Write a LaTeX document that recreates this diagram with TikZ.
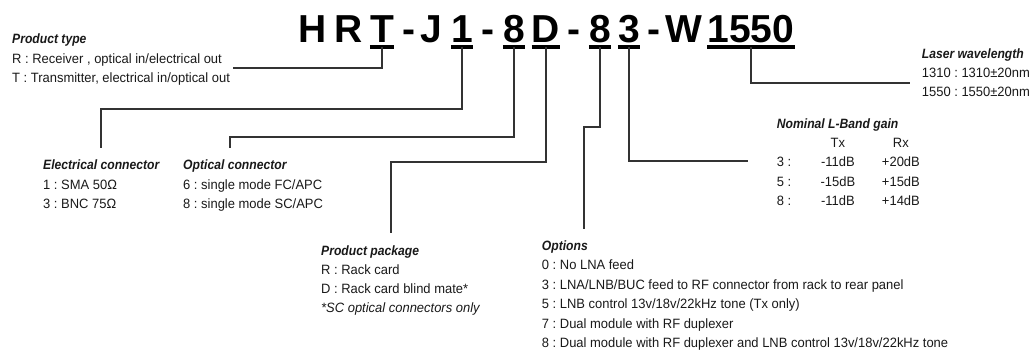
\documentclass[tikz,border=0pt]{standalone}
\usepackage{fontspec}
\setmainfont{Liberation Sans}[FakeStretch=0.96]
\newfontfamily\headfont{Liberation Sans}[FakeStretch=0.9]
\newfontfamily\codefont{Liberation Sans}
\usepackage{array}
\usepackage{tikz}
\frenchspacing

\begin{document}
\begin{tikzpicture}[
  x=1pt, y=-1pt,
  font=\fontsize{13.5}{19.5}\selectfont,
  text=black!90,
  code/.style={
    anchor=base,
    inner xsep=0pt,
    inner ysep=3.5pt,
    text=black,
    font=\codefont\fontsize{39}{39}\selectfont\bfseries,
  },
  uline/.style={line width=4pt, black},
  lead/.style={line width=1.2pt, black!80},
  field/.style={anchor=north west, inner sep=0pt, align=left},
]
\useasboundingbox (0,0) rectangle (1031,350);

% --- Part number ---
\foreach \ch/\cx/\nm in {H/313/cH, R/349/cR, T/382/cT, -/409/cDashA, J/431/cJ,
  1/462/cOne, -/488/cDashB, 8/514/cEightA, D/546/cD, -/574/cDashC,
  8/600/cEightB, 3/629/cThree, -/654/cDashD, W/684/cW, 1550/751/cWave}
  \node[code] (\nm) at (\cx,43) {\ch};

\foreach \nm in {cT, cOne, cEightA, cD, cEightB, cThree, cWave}
  \draw[uline] (\nm.south west) -- (\nm.south east);

% --- Product type ---
\node[field] (Type) at (12,33.6) {
  {\headfont\bfseries\itshape Product type}\\
  R : Receiver , optical in/electrical out\\
  T : Transmitter, electrical in/optical out
};

% --- Electrical connector ---
\node[field] (Elec) at (43,159.6) {
  {\headfont\bfseries\itshape Electrical connector}\\
  1 : SMA 50Ω\\
  3 : BNC 75Ω
};

% --- Optical connector ---
\node[field] (Optic) at (183,159.6) {
  {\headfont\bfseries\itshape Optical connector}\\
  6 : single mode FC/APC\\
  8 : single mode SC/APC
};

% --- Product package ---
\node[field, font=\fontsize{13.5}{19}\selectfont] (Package) at (321,245.3) {
  {\headfont\bfseries\itshape Product package}\\
  R : Rack card\\
  D : Rack card blind mate*\\
  \textit{*SC optical connectors only}
};

% --- Options ---
\node[field] (Options) at (541.7,240.3) {
  {\headfont\bfseries\itshape Options}\\
  0 : No LNA feed\\
  3 : LNA/LNB/BUC\ feed to RF connector from rack to rear panel\\
  5 : LNB control 13v/18v/22kHz tone (Tx only)\\
  7 : Dual module with RF duplexer\\
  8 : Dual module with RF duplexer and LNB control 13v/18v/22kHz tone
};

% --- Nominal L-Band gain ---
\node[field, font=\fontsize{13.5}{19.2}\selectfont] (Gain) at (776.7,114.9) {
  \begin{tabular}{@{}p{39pt}@{}>{\centering\arraybackslash}p{44pt}@{}>{\centering\arraybackslash}p{82pt}@{}}
  \multicolumn{3}{@{}l@{}}{\headfont\bfseries\itshape Nominal L-Band gain}\\
   & Tx & Rx\\
  3 : & -11dB & +20dB\\
  5 : & -15dB & +15dB\\
  8 : & -11dB & +14dB\\
  \end{tabular}
};

% --- Laser wavelength ---
\node[field, font=\fontsize{13.5}{19}\selectfont] (Wave) at (921.7,48.6) {
  {\headfont\bfseries\itshape Laser wavelength}\\
  1310 : 1310±20nm\\
  1550 : 1550±20nm
};

% leader lines
\coordinate (TypeEnd) at (233,68);
\coordinate (ElecBend) at (101,109);
\coordinate (ElecEnd) at (101,148);
\coordinate (OpticBend) at (230,137);
\coordinate (OpticEnd) at (230,148);
\coordinate (PackBend) at (391,162);
\coordinate (PackEnd) at (391,233);
\coordinate (OptsBend) at (584,127);
\coordinate (OptsEnd) at (584,229);
\coordinate (GainEnd) at (748,161);
\coordinate (WaveEnd) at (910,83);

\draw[lead] (cT.south) |- (TypeEnd);
\draw[lead] (cOne.south) |- (ElecBend) -- (ElecEnd);
\draw[lead] (cEightA.south) |- (OpticBend) -- (OpticEnd);
\draw[lead] (cD.south) |- (PackBend) -- (PackEnd);
\draw[lead] (cEightB.south) |- (OptsBend) -- (OptsEnd);
\draw[lead] (cThree.south) |- (GainEnd);
\draw[lead] (cWave.south) |- (WaveEnd);

\end{tikzpicture}
\end{document}
